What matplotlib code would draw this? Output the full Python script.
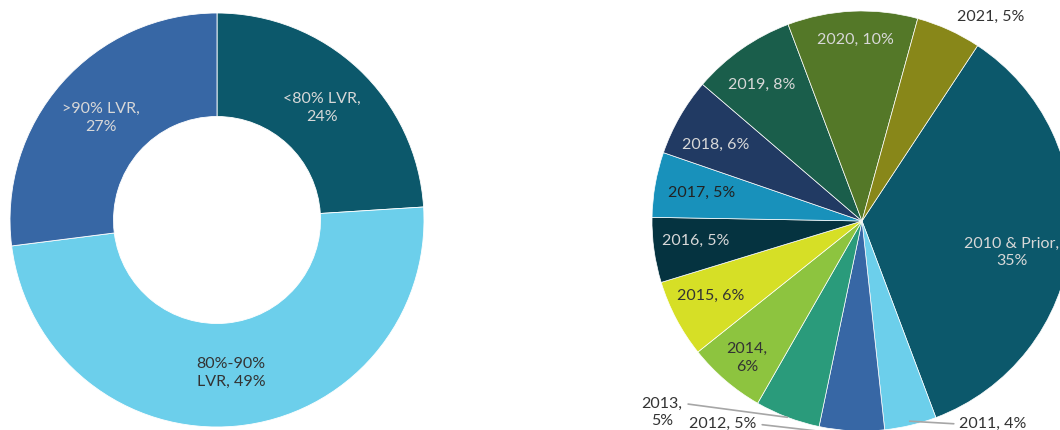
import numpy as np
import matplotlib
matplotlib.use("Agg")
import matplotlib.pyplot as plt

plt.rcParams["font.family"] = ["Lato", "DejaVu Sans"]

# left donut: loan-to-value split
lvr_labels = ["<80% LVR,\n24%", "80%-90%\nLVR, 49%", ">90% LVR,\n27%"]
lvr_values = [24, 49, 27]
lvr_colors = ["#0c586b", "#6ccfeb", "#3767a5"]
lvr_text = ["#d8d8d8", "#333333", "#d8d8d8"]
lvr_pos = [(0.507, 0.541), (0.068, -0.739), (-0.560, 0.493)]

# right pie: vintage split
yr_labels = ["2010 & Prior,\n35%", "2011, 4%", "2012, 5%", "2013,\n5%", "2014,\n6%",
             "2015, 6%", "2016, 5%", "2017, 5%", "2018, 6%", "2019, 8%",
             "2020, 10%", "2021, 5%"]
yr_values = [35, 4, 5, 5, 6, 6, 5, 5, 6, 8, 10, 5]
yr_colors = ["#0c586b", "#6ccfeb", "#3767a5", "#2a9b7b", "#8dc43f", "#d6df26",
             "#053340", "#1891bb", "#213a63", "#1a5e4b", "#547828", "#888719"]
yr_text = ["#d8d8d8", "#333333", "#333333", "#333333", "#333333", "#333333",
           "#d8d8d8", "#222222", "#d8d8d8", "#d8d8d8", "#d8d8d8", "#333333"]
yr_pos = [(0.714, -0.148), (0.624, -0.967), (-0.662, -0.967), (-0.952, -0.910),
          (-0.548, -0.652), (-0.719, -0.357), (-0.790, -0.095), (-0.762, 0.133),
          (-0.695, 0.362), (-0.476, 0.648), (-0.033, 0.862), (0.614, 0.971)]
# slice index -> (radius where the leader ends, anchor on the label box)
yr_leader = {1: (0.98, (0.0, 0.5)), 2: (1.02, (1.0, 0.5)), 3: (1.0, (1.0, 0.78))}

W, H = 1060, 430
fig = plt.figure(figsize=(W / 100, H / 100), dpi=100)

# left donut, centre (217, 210) px, radius 207 px
axl = fig.add_axes([(217 - 207) / W, (210 - 207) / H, 414 / W, 414 / H])
axl.pie(lvr_values, colors=lvr_colors, startangle=90, counterclock=False, radius=1,
        wedgeprops=dict(width=0.5, edgecolor="white", linewidth=0.6))
for lab, (x, y), c in zip(lvr_labels, lvr_pos, lvr_text):
    axl.text(x, y, lab, ha="center", va="center", fontsize=11.5, color=c, linespacing=1.3)
axl.set_xlim(-1, 1); axl.set_ylim(-1, 1)

# right pie, centre (862, 209) px, radius 210 px
axr = fig.add_axes([(862 - 210) / W, (209 - 210) / H, 420 / W, 420 / H])
wedges, _ = axr.pie(yr_values, colors=yr_colors, startangle=56.6, counterclock=False,
                    radius=1, wedgeprops=dict(edgecolor="white", linewidth=0.5))
for i, (lab, (x, y), c) in enumerate(zip(yr_labels, yr_pos, yr_text)):
    if i in yr_leader:
        w = wedges[i]
        mid = np.deg2rad((w.theta1 + w.theta2) / 2)
        r, rel = yr_leader[i]
        axr.annotate(lab, xy=(r * np.cos(mid), r * np.sin(mid)), xytext=(x, y),
                     ha="center", va="center", fontsize=11.5, color=c, linespacing=1.3,
                     arrowprops=dict(arrowstyle="-", color="#a6a6a6", lw=1.2,
                                     relpos=rel, shrinkA=2, shrinkB=0),
                     annotation_clip=False)
    else:
        axr.text(x, y, lab, ha="center", va="center", fontsize=11.5, color=c,
                 linespacing=1.3)
axr.set_xlim(-1, 1); axr.set_ylim(-1, 1)

fig.savefig("out.png", dpi=100)
